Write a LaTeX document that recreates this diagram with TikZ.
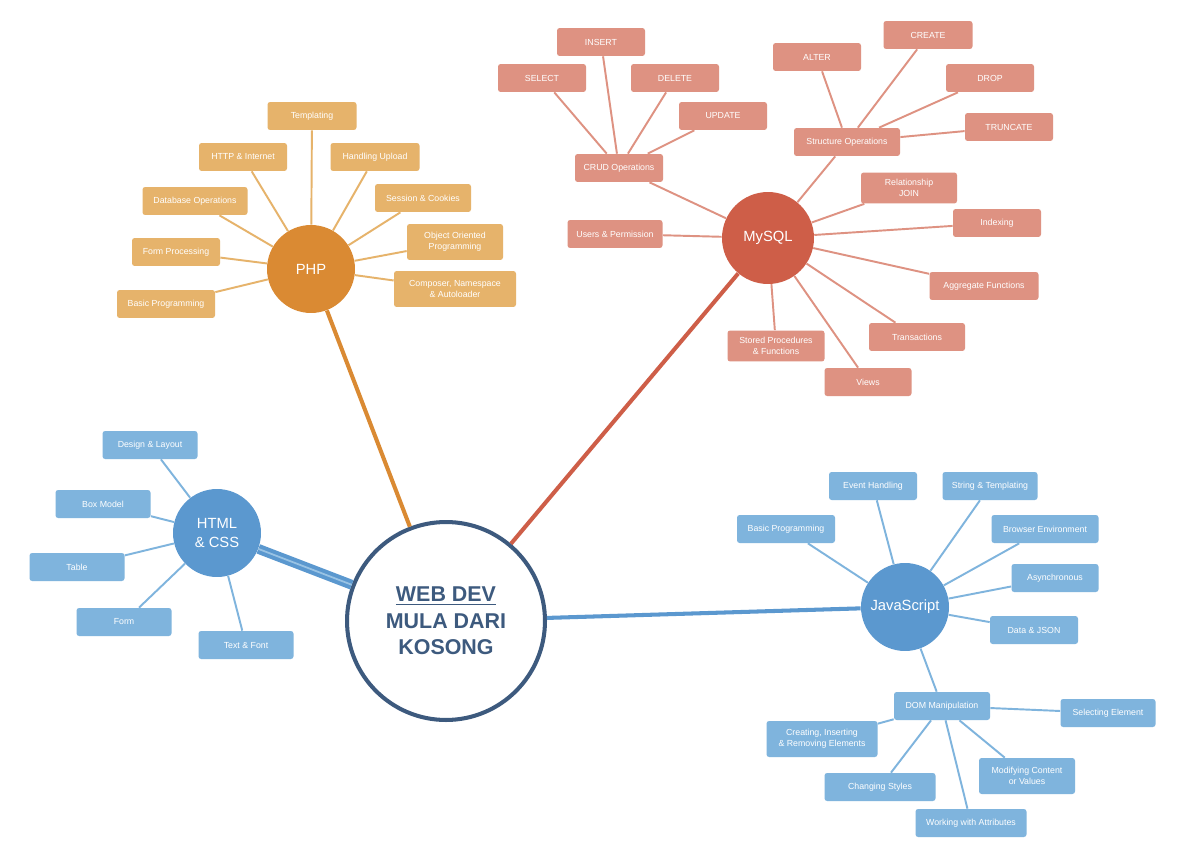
\documentclass[tikz,border=0pt]{standalone}
\usepackage{fontspec}
\setmainfont{Liberation Sans}
\definecolor{ctr}{HTML}{3D5A7E}
\definecolor{phpc}{HTML}{DA8A33}
\definecolor{phpb}{HTML}{E6B36B}
\definecolor{sqlc}{HTML}{CE5E48}
\definecolor{sqlb}{HTML}{DE9282}
\definecolor{jsc}{HTML}{5B98CF}
\definecolor{jsb}{HTML}{7FB4DD}
\begin{document}
\begin{tikzpicture}[x=0.02cm,y=-0.02cm,
  box/.style={rounded corners=1.5pt, inner sep=0pt, text=white, align=center,
     minimum height=0.56cm, font=\fontsize{5}{6.2}\selectfont},
  bw/.style={minimum width={#1*0.02cm}},
  tall/.style={minimum height=0.72cm},
  hub/.style={circle, inner sep=0pt, minimum size=1.76cm, text=white, align=center,
     font=\fontsize{8.4}{11.3}\selectfont},
  phpbox/.style={box, fill=phpb},
  sqlbox/.style={box, fill=sqlb},
  jsbox/.style={box, fill=jsb},
  phpl/.style={draw=phpb, line width=1.1pt},
  sqll/.style={draw=sqlb, line width=1.1pt},
  jsl/.style={draw=jsb, line width=1.1pt},
  mainl/.style={line width=2.3pt}
]
\useasboundingbox (0,0) rectangle (1200,848);
\fill[white] (0,0) rectangle (1200,848);

% hubs
\node[hub, fill=phpc] (php) at (311,269) {PHP};
\node[hub, fill=sqlc, minimum size=1.84cm] (sql) at (768,238) {MySQL};
\node[hub, fill=jsc] (html) at (217,533) {HTML\\\& CSS};
\node[hub, fill=jsc] (js) at (905,607) {JavaScript};
\node[circle, draw=ctr, line width=2.3pt, fill=white, minimum size=3.96cm, inner sep=0pt,
  text=ctr, align=center, font=\fontsize{12.2}{15}\selectfont\bfseries] (c) at (446,621)
  {\underline{WEB DEV}\\MULA DARI\\KOSONG};

% main connectors
\draw[mainl, phpc] (c) -- (php);
\draw[mainl, sqlc] (c) -- (sql);
\draw[mainl, jsc] (c) -- (js);
\draw[line width=2.3pt, draw=jsc, double=jsb!80!white, double distance=1pt] (c) -- (html);

% PHP boxes
\node[phpbox, bw=89] (p1) at (312,116) {Templating};
\node[phpbox, bw=88] (p2) at (243,157) {HTTP \& Internet};
\node[phpbox, bw=89] (p3) at (375,157) {Handling Upload};
\node[phpbox, bw=105] (p4) at (195,201) {Database Operations};
\node[phpbox, bw=96] (p5) at (423,198) {Session \& Cookies};
\node[phpbox, bw=88] (p6) at (176,252) {Form Processing};
\node[phpbox, bw=96, tall] (p7) at (455,242) {Object Oriented\\Programming};
\node[phpbox, bw=98] (p8) at (166,304) {Basic Programming};
\node[phpbox, bw=122, tall] (p9) at (455,289) {Composer, Namespace\\\& Autoloader};
\foreach \b in {p1,p2,p3,p4,p5,p6,p7,p8,p9} \draw[phpl] (php) -- (\b);

% MySQL boxes
\node[sqlbox, bw=88] (s1) at (601,42) {INSERT};
\node[sqlbox, bw=88] (s2) at (542,78) {SELECT};
\node[sqlbox, bw=88] (s3) at (675,78) {DELETE};
\node[sqlbox, bw=88] (s4) at (723,116) {UPDATE};
\node[sqlbox, bw=88] (crud) at (619,168) {CRUD Operations};
\node[sqlbox, bw=95] (s5) at (615,234) {Users \& Permission};
\node[sqlbox, bw=88] (s6) at (817,57) {ALTER};
\node[sqlbox, bw=89] (s7) at (928,35) {CREATE};
\node[sqlbox, bw=88] (s8) at (990,78) {DROP};
\node[sqlbox, bw=88] (s9) at (1009,127) {TRUNCATE};
\node[sqlbox, bw=106] (so) at (847,142) {Structure Operations};
\node[sqlbox, bw=96, minimum height=0.62cm] (s10) at (909,188) {Relationship\\JOIN};
\node[sqlbox, bw=88] (s11) at (997,223) {Indexing};
\node[sqlbox, bw=109] (s12) at (984,286) {Aggregate Functions};
\node[sqlbox, bw=96] (s13) at (917,337) {Transactions};
\node[sqlbox, bw=97, minimum height=0.62cm] (s14) at (776,346) {Stored Procedures\\\& Functions};
\node[sqlbox, bw=87] (s15) at (868,382) {Views};
\foreach \b in {s1,s2,s3,s4} \draw[sqll] (crud) -- (\b);
\foreach \b in {s6,s7,s8,s9} \draw[sqll] (so) -- (\b);
\foreach \b in {crud,s5,so,s10,s11,s12,s13,s14,s15} \draw[sqll] (sql) -- (\b);

% HTML & CSS boxes
\node[jsbox, bw=95] (h1) at (150,445) {Design \& Layout};
\node[jsbox, bw=95] (h2) at (103,504) {Box Model};
\node[jsbox, bw=95] (h3) at (77,567) {Table};
\node[jsbox, bw=95] (h4) at (124,622) {Form};
\node[jsbox, bw=95] (h5) at (246,645) {Text \& Font};
\foreach \b in {h1,h2,h3,h4,h5} \draw[jsl] (html) -- (\b);

% JavaScript boxes
\node[jsbox, bw=88] (j1) at (873,486) {Event Handling};
\node[jsbox, bw=95] (j2) at (990,486) {String \& Templating};
\node[jsbox, bw=98] (j3) at (786,529) {Basic Programming};
\node[jsbox, bw=107] (j4) at (1045,529) {Browser Environment};
\node[jsbox, bw=87] (j5) at (1055,578) {Asynchronous};
\node[jsbox, bw=88] (j6) at (1034,630) {Data \& JSON};
\node[jsbox, bw=96] (dom) at (942,706) {DOM Manipulation};
\foreach \b in {j1,j2,j3,j4,j5,j6,dom} \draw[jsl] (js) -- (\b);
\node[jsbox, bw=95] (d1) at (1108,713) {Selecting Element};
\node[jsbox, bw=111, tall] (d2) at (822,739) {Creating, Inserting\\\& Removing Elements};
\node[jsbox, bw=111] (d3) at (880,787) {Changing Styles};
\node[jsbox, bw=96, tall] (d4) at (1027,776) {Modifying Content\\or Values};
\node[jsbox, bw=111] (d5) at (971,823) {Working with Attributes};
\foreach \b in {d1,d2,d3,d4,d5} \draw[jsl] (dom) -- (\b);
\end{tikzpicture}
\end{document}
